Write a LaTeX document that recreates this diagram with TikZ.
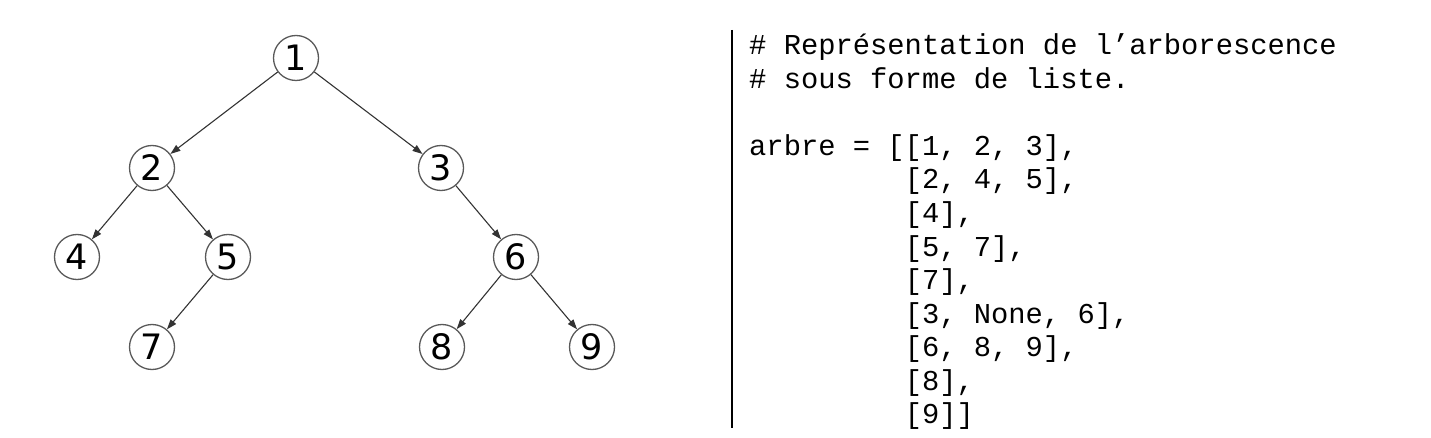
\documentclass[tikz,border=0pt]{standalone}
\usepackage{fontspec}
\setmonofont{Liberation Mono}
\newfontfamily\treefont{DejaVu Sans}
\usepackage{tikz}
\usetikzlibrary{arrows.meta}
\frenchspacing
\tikzset{
>={Triangle[length=10pt,width=7pt]}, % filled arrow heads
vertex/.style={circle, draw=black!65, line width=1.3pt, minimum size=45pt, inner sep=0pt,
  font=\treefont\fontsize{35}{35}\selectfont}, % the nodes of the tree
link/.style={->, draw=black!80, line width=1.1pt}, % parent -> child
codeline/.style={anchor=base west, inner sep=0pt, font=\ttfamily\fontsize{28.8}{33}\selectfont}, % one line of code
}

\begin{document}
\begin{tikzpicture}[x=1pt, y=-1pt]
        \useasboundingbox (0,0) rectangle (1431,438);
        % the tree
        \node[vertex] (n1) at (296,58) {1};
        \node[vertex] (n2) at (152,168) {2};
        \node[vertex] (n3) at (441,168) {3};
        \node[vertex] (n4) at (77,257) {4};
        \node[vertex] (n5) at (228,257) {5};
        \node[vertex] (n6) at (516,257) {6};
        \node[vertex] (n7) at (152,347) {7};
        \node[vertex] (n8) at (442,347) {8};
        \node[vertex] (n9) at (592,347) {9};

        \draw (n1) edge[link] (n2)
                   edge[link] (n3)
              (n2) edge[link] (n4)
                   edge[link] (n5)
              (n3) edge[link] (n6)
              (n5) edge[link] (n7)
              (n6) edge[link] (n8)
                   edge[link] (n9);

        % separator
        \coordinate (septop) at (732,30);
        \coordinate (sepbot) at (732,428);
        \draw[line width=1.5pt] (septop) -- (sepbot);

        % the list
        \node[codeline] (c0) at (749,55) {\# Représentation de l’arborescence};
        \node[codeline] (c1) at (749,88.5) {\# sous forme de liste.};
        \node[codeline] (c3) at (749,155.5) {arbre = [[1, 2, 3],};
        \foreach \t [count=\i from 4] in {{[2, 4, 5],}, {[4],}, {[5, 7],}, {[7],},
                 {[3, None, 6],}, {[6, 8, 9],}, {[8],}, {[9]]}}
            \node[codeline] (c\i) at (749,{55+33.5*\i}) {\phantom{arbre = [}\t};
    \end{tikzpicture}
\end{document}
